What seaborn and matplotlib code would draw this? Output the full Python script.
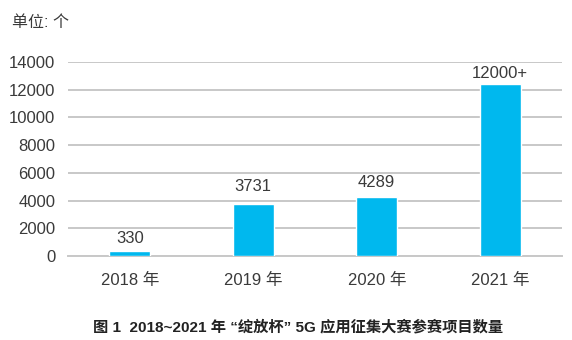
import matplotlib
matplotlib.use("Agg")
import matplotlib.pyplot as plt
import seaborn as sns
import pandas as pd

years = ["2018 年", "2019 年", "2020 年", "2021 年"]
values = [330, 3731, 4289, 12400]
value_labels = ["330", "3731", "4289", "12000+"]
yticks = [0, 2000, 4000, 6000, 8000, 10000, 12000, 14000]
unit_label = "单位: 个"
caption = "图 1  2018~2021 年 “绽放杯” 5G 应用征集大赛参赛项目数量"

sns.set_theme(style="white")
plt.rcParams['font.family'] = ['Liberation Sans', 'Noto Sans CJK SC', 'DejaVu Sans']

TXT = "#3a3a3a"
BAR = "#00B8EE"
GRID = "#c8c8c8"

df = pd.DataFrame({"year": years, "value": values})

fig = plt.figure(figsize=(5.72, 3.40), dpi=100)
ax = fig.add_axes([68/572, 84/340, 494/572, 194/340])

sns.barplot(data=df, x="year", y="value", color=BAR, width=0.33,
            saturation=1, ax=ax, zorder=3)

ax.set_xlim(-0.5, 3.5)
ax.set_ylim(0, 14000)
ax.set_yticks(yticks)
ax.set_yticklabels([str(t) for t in yticks])
ax.grid(axis="y", color=GRID, linewidth=1.4, zorder=0)
ax.set_axisbelow(True)
for s in ["top", "right", "left"]:
    ax.spines[s].set_visible(False)
ax.spines["bottom"].set_color(GRID)
ax.spines["bottom"].set_linewidth(1.4)
ax.tick_params(axis="y", length=0, pad=9, labelsize=12, labelcolor=TXT)
ax.tick_params(axis="x", length=0, pad=12, labelsize=12, labelcolor=TXT)
ax.set_xlabel("")
ax.set_ylabel("")

label_gaps_px = [5, 10, 7, 3]
for i, (v, lab) in enumerate(zip(values, value_labels)):
    ax.annotate(lab, xy=(i, v), xytext=(0, label_gaps_px[i] * 0.72),
                textcoords="offset points",
                ha="center", va="bottom", fontsize=12, color=TXT)

fig.text(12/572, 1 - 22/340, unit_label, ha="left", va="center",
         fontsize=11.5, color=TXT)
fig.text(298/572, 1 - 327/340, caption, ha="center", va="center",
         fontsize=11, fontweight="bold", color="#222222")

fig.savefig("out.png", dpi=100)
